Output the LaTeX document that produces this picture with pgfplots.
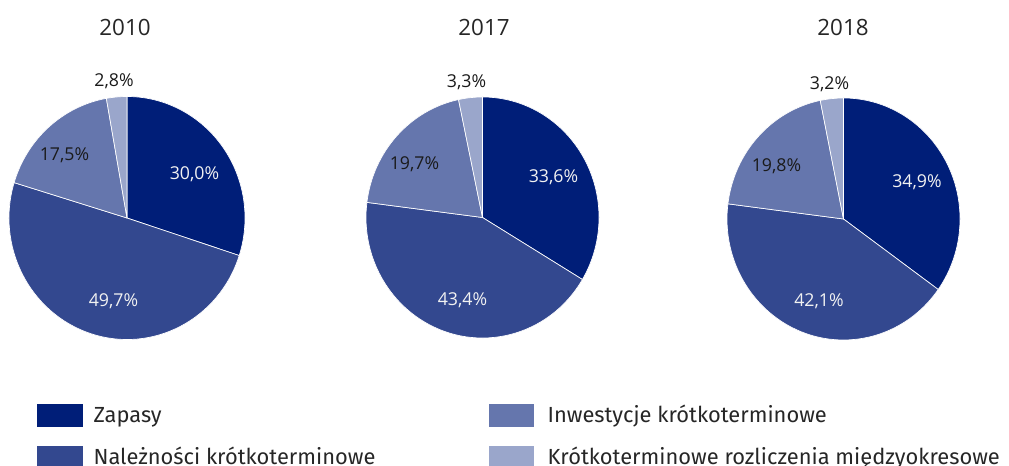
\documentclass[border=0pt]{standalone}
\usepackage{pgfplots}
\pgfplotsset{compat=1.18}
\usepackage{pgfplotstable}
\usepackage{fontspec}
\setmainfont{Open Sans}
\newfontfamily\legfont{Fira Sans}
\definecolor{c0}{RGB}{0,30,120}
\definecolor{c1}{RGB}{51,72,143}
\definecolor{c2}{RGB}{101,118,173}
\definecolor{c3}{RGB}{154,166,203}
\definecolor{t0}{RGB}{242,242,242}
\definecolor{t1}{RGB}{242,242,242}
\definecolor{t2}{RGB}{26,26,26}
\definecolor{t3}{RGB}{26,26,26}
\definecolor{txt}{RGB}{38,38,38}
\newcommand\lblfont{\fontsize{13.3}{15}\selectfont}

% v = share in %, lx/ly = label offset from centre (px)
\pgfplotstableread{
v lx ly
30.0 67.5 45
49.7 -13.5 -82.5
17.5 -62.5 63.5
2.8 -13 137.5
}\tenten
\pgfplotstableread{
v lx ly
33.6 71 41
43.4 -20 -81.5
19.7 -68 54
3.3 -16 136.5
}\tenseventeen
\pgfplotstableread{
v lx ly
34.9 73.5 37.5
42.1 -24.5 -81.5
19.8 -67 53.5
3.2 -14 136
}\teneighteen

% #1 table, #2 x radius, #3 y radius (px)
\newcommand\drawpie[3]{%
  \pgfplotstablegetrowsof{#1}%
  \pgfmathtruncatemacro\nlast{\pgfplotsretval-1}%
  \def\cum{0}%
  \pgfplotsforeachungrouped \i in {0,...,\nlast}{%
    \pgfplotstablegetelem{\i}{v}\of{#1}\let\v\pgfplotsretval
    \pgfplotstablegetelem{\i}{lx}\of{#1}\let\lx\pgfplotsretval
    \pgfplotstablegetelem{\i}{ly}\of{#1}\let\ly\pgfplotsretval
    \pgfmathsetmacro\aa{90-3.6*\cum}%
    \pgfmathsetmacro\bb{90-3.6*(\cum+\v)}%
    \pgfmathsetmacro\sx{#2*cos(\aa)}%
    \pgfmathsetmacro\sy{#3*sin(\aa)}%
    \edef\temp{%
      \noexpand\fill[c\i, draw=white, line width=0.5pt, line join=round]
        (axis cs:0,0) -- (axis cs:\sx,\sy)
        arc[start angle=\aa, end angle=\bb, x radius=#2*0.75pt, y radius=#3*0.75pt] -- cycle;
      \noexpand\node[text=t\i, font=\noexpand\lblfont, inner sep=0pt, text depth=0pt]
        at (axis cs:\lx,\ly)
        {\noexpand\pgfmathprintnumber[fixed,fixed zerofill,precision=1,use comma,assume math mode=true]{\v}\noexpand\%};
    }%
    \temp
    \pgfmathsetmacro\cum{\cum+\v}%
  }%
}

\pgfplotsset{
  pie/.style={
    hide axis, clip=false, anchor=center,
    x=0.75pt, y=0.75pt,
    xmin=-140, xmax=140, ymin=-140, ymax=140,
  },
}

\begin{document}
\begin{tikzpicture}
\useasboundingbox (0,0) rectangle (756.75pt,349.5pt);
\clip (0,0) rectangle (756.75pt,349.5pt);

\begin{axis}[pie, at={(95.25pt,186pt)}]
\drawpie{\tenten}{118}{121.5}
\end{axis}
\begin{axis}[pie, at={(361.875pt,186.375pt)}]
\drawpie{\tenseventeen}{116.5}{120.5}
\end{axis}
\begin{axis}[pie, at={(632.625pt,185.25pt)}]
\drawpie{\teneighteen}{116.5}{121}
\end{axis}

% titles
\begin{scope}[every node/.style={text=txt, inner sep=0pt, font=\fontsize{16.8}{19}\selectfont}]
\node at (93.75pt,329.25pt) {2010};
\node at (363pt,329.25pt) {2017};
\node at (632.25pt,328.5pt) {2018};
\end{scope}

% legend
\begin{scope}[every node/.style={text=txt, inner sep=0pt, anchor=base west, font=\legfont\fontsize{16.4}{19}\selectfont}]
\fill[c0] (27.75pt,29.25pt) rectangle (62.25pt,46.5pt);
\node at (70pt,32.25pt) {Zapasy};
\fill[c1] (27.75pt,-2.25pt) rectangle (62.25pt,15pt);
\node at (70pt,0.75pt) {Należności krótkoterminowe};
\fill[c2] (366.75pt,29.25pt) rectangle (400.5pt,46.5pt);
\node at (410.5pt,32.25pt) {Inwestycje krótkoterminowe};
\fill[c3] (366.75pt,-2.25pt) rectangle (400.5pt,15pt);
\node at (410.5pt,0.75pt) {Krótkoterminowe rozliczenia międzyokresowe};
\end{scope}
\end{tikzpicture}
\end{document}
